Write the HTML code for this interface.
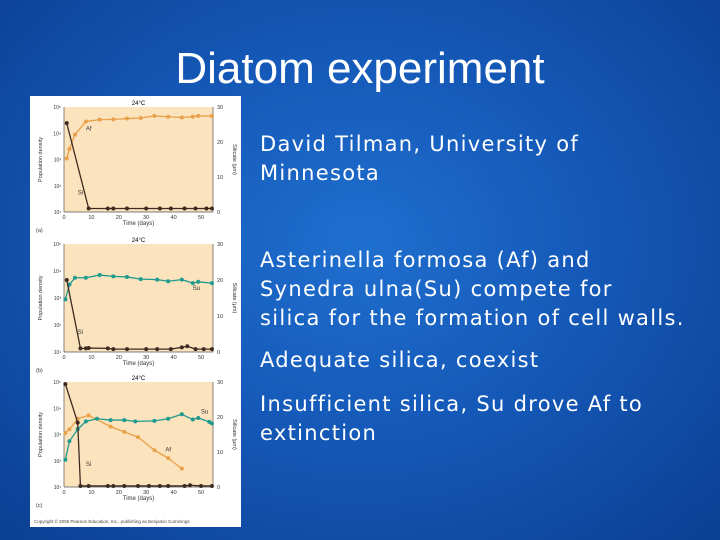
<!DOCTYPE html>
<html><head><meta charset="utf-8"><style>
body{margin:0;width:720px;height:540px;overflow:hidden;background:#0d47a1;}
#bg{position:absolute;left:0;top:0;width:720px;height:540px;background:radial-gradient(ellipse at 50% 45%,#1f6fcf 0%,#1559b8 45%,#0b3f92 100%);}
h1{position:absolute;left:0;width:720px;top:44px;margin:0;text-align:center;font:44px "Liberation Sans",sans-serif;color:#fff;}
.t{position:absolute;left:260px;font:21px "DejaVu Sans",sans-serif;letter-spacing:1.3px;color:#fff;line-height:29px;margin:0;white-space:nowrap;}
svg{position:absolute;left:0;top:0;}
</style></head><body>
<div id="bg"></div>
<h1>Diatom experiment</h1>
<p class="t" style="top:130px">David Tilman, University of<br>Minnesota</p>
<p class="t" style="top:246px">Asterinella formosa (Af) and<br>Synedra ulna(Su) compete for<br>silica for the formation of cell walls.</p>
<p class="t" style="top:346px">Adequate silica, coexist</p>
<p class="t" style="top:390px">Insufficient silica, Su drove Af to<br>extinction</p>
<svg id="fig" width="720" height="540"></svg>
<script>
// Chart (a): Af alone
const aAfDays=[1,2,4,8,13,18,23,28,33,38,43,47,49,54];
const aAfLog=[3.04,3.4,3.95,4.45,4.52,4.53,4.56,4.58,4.66,4.63,4.6,4.63,4.66,4.66];
const aSiDays=[1,9,16,18,23,30,35,39,44,48,52,54];
const aSi=[25.4,1,1,1,1,1,1,1,1,1,1,1];
// Chart (b): Su alone
const bSuDays=[0.5,2,4,8,13,18,23,28,34,38,43,47,49,54];
const bSuLog=[2.95,3.5,3.75,3.75,3.85,3.8,3.78,3.7,3.68,3.62,3.68,3.55,3.6,3.55];
const bSiDays=[1,6,8,9,16,18,23,30,34,39,43,45,48,51,54];
const bSi=[20,1,1,1.1,1,0.8,0.8,0.8,0.8,0.8,1.3,1.6,0.8,0.8,0.8];
// Chart (c): competition
const cAfDays=[0.5,2,5,9,17,22,27,33,38,43];
const cAfLog=[3.06,3.2,3.6,3.73,3.3,3.1,2.9,2.4,2.1,1.7];
const cSuDays=[0.5,2,5,8,12,17,22,26,33,38,43,47,49,53,54];
const cSuLog=[2.04,2.75,3.2,3.5,3.6,3.55,3.55,3.5,3.52,3.6,3.77,3.57,3.63,3.48,3.42];
const cSiDays=[0.5,5,6,9,16,18,22,27,31,35,38,44,46,50,54];
const cSi=[29.4,18.4,0.3,0.3,0.3,0.3,0.3,0.3,0.3,0.3,0.3,0.3,0.5,0.3,0.3];
const xTicks=[0,10,20,30,40,50];
const yTickLabels=["10¹","10²","10³","10⁴","10⁵"];
const siTicks=[0,10,20,30];

const NS="http://www.w3.org/2000/svg",fig=document.getElementById('fig');
function mk(tag,at,parent,txt){const e=document.createElementNS(NS,tag);for(const k in at)e.setAttribute(k,at[k]);if(txt!==undefined)e.textContent=txt;(parent||fig).appendChild(e);return e;}
const panel=mk('rect',{x:30,y:96,width:211,height:431,fill:'#fff'});


const ORANGE='#e8a04a',TEAL='#1f9a8f',BROWN='#3d2b22';
function chart(name,top,bottom,letter,series){
  const L=64,R=213,x=d=>L+d*(201-L)/50,yl=v=>bottom-(v-1)*(bottom-top)/4,ys=s=>bottom-s*(bottom-top)/30;
  const g=mk('g',{});
  
  
  mk('rect',{x:L,y:top,width:R-L,height:bottom-top,fill:'#fbe3bd'},g);
  mk('line',{x1:L,y1:top,x2:L,y2:bottom,stroke:'#555','stroke-width':0.7},g);
  mk('line',{x1:R,y1:top,x2:R,y2:bottom,stroke:'#555','stroke-width':0.7},g);
  mk('line',{x1:L,y1:bottom,x2:R,y2:bottom,stroke:'#555','stroke-width':0.7},g);
  mk('text',{x:(L+R)/2,y:top-2,'font-size':6,'text-anchor':'middle','font-family':'Liberation Sans'},g,'24°C');
  xTicks.forEach(t=>{mk('text',{x:x(t),y:bottom+7,'font-size':5.5,'text-anchor':'middle','font-family':'Liberation Sans',fill:'#333'},g,String(t));});
  yTickLabels.forEach((t,i)=>{mk('text',{x:L-3,y:yl(i+1)+2,'font-size':5,'text-anchor':'end','font-family':'Liberation Sans',fill:'#333'},g,t);});
  siTicks.forEach(t=>{mk('text',{x:R+4,y:ys(t)+2,'font-size':5.5,'font-family':'Liberation Sans',fill:'#333'},g,String(t));});
  mk('text',{x:(L+R)/2,y:bottom+13,'font-size':6,'text-anchor':'middle','font-family':'Liberation Sans',fill:'#333'},g,'Time (days)');
  mk('text',{x:36,y:bottom+20,'font-size':5.5,'font-family':'Liberation Sans',fill:'#333'},g,letter);
  mk('text',{transform:`translate(${L-22},${(top+bottom)/2}) rotate(-90)`,'font-size':5.5,'text-anchor':'middle','font-family':'Liberation Sans',fill:'#333'},g,'Population density');
  mk('text',{transform:`translate(${R+20},${(top+bottom)/2}) rotate(90)`,'font-size':5.5,'text-anchor':'middle','font-family':'Liberation Sans',fill:'#333'},g,'Silicate (μm)');
  series.forEach(s=>{
    const fy=s.si?ys:yl;
    const pts=s.d.map((d,i)=>[x(d),fy(s.v[i])]);
    const p=mk('polyline',{points:pts.map(q=>q.join(',')).join(' '),fill:'none',stroke:s.c,'stroke-width':1.3,'stroke-linejoin':'round'},g);
    
    
    pts.forEach(q=>{const c=mk('circle',{cx:q[0],cy:q[1],r:2,fill:s.c},g);
      
      });
    mk('text',{x:x(s.lx),y:fy(s.ly),'font-size':6,'font-family':'Liberation Sans',fill:'#333'},g,s.lab);
  });
}
chart('chart-a',107,212,'(a)',[
 {n:'af',d:aAfDays,v:aAfLog,c:ORANGE,lab:'Af',lx:8,ly:4.1},
 {n:'si',d:aSiDays,v:aSi,c:BROWN,si:true,lab:'Si',lx:5,ly:5}]);
chart('chart-b',244,352,'(b)',[
 {n:'su',d:bSuDays,v:bSuLog,c:TEAL,lab:'Su',lx:47,ly:3.3},
 {n:'si',d:bSiDays,v:bSi,c:BROWN,si:true,lab:'Si',lx:5,ly:5}]);
chart('chart-c',382,487,'(c)',[
 {n:'af',d:cAfDays,v:cAfLog,c:ORANGE,lab:'Af',lx:37,ly:2.35},
 {n:'su',d:cSuDays,v:cSuLog,c:TEAL,lab:'Su',lx:50,ly:3.8},
 {n:'si',d:cSiDays,v:cSi,c:BROWN,si:true,lab:'Si',lx:8,ly:6}]);
const cp=mk('text',{x:34,y:523,'font-size':4.5,'font-family':'Liberation Sans',fill:'#444'},fig,'Copyright © 2005 Pearson Education, Inc., publishing as Benjamin Cummings');


</script>
</body></html>
